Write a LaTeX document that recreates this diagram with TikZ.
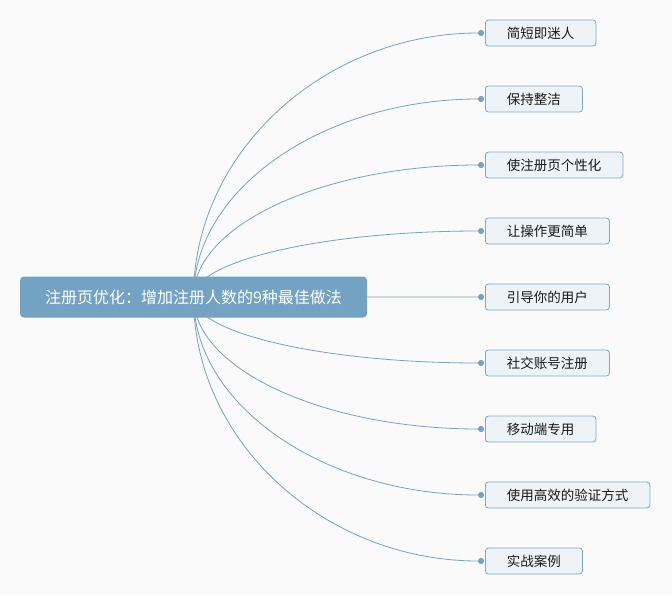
\documentclass[tikz,border=0pt]{standalone}
\usepackage{fontspec}
\setmainfont{Noto Sans CJK SC}
\definecolor{paper}{RGB}{250,250,250}
\definecolor{hubblue}{RGB}{116,162,194}
\definecolor{linkblue}{RGB}{122,161,193}
\definecolor{leafedge}{RGB}{128,168,200}
\definecolor{leaffill}{RGB}{238,243,247}
\usetikzlibrary{arrows.meta, positioning, calc}

\begin{document}
\begin{tikzpicture}[x=1pt, y=-1pt,
        hub/.style={fill=hubblue, rounded corners=4pt, text=white,
                    font=\fontsize{16}{18}\selectfont,
                    minimum width=347pt, minimum height=41pt, inner sep=0pt},
        leaf/.style={draw=leafedge, fill=leaffill, rounded corners=3pt,
                     line width=0.8pt, text=black!90,
                     font=\fontsize{13.5}{15}\selectfont,
                     minimum height=26pt, inner xsep=21.5pt, inner ysep=0pt,
                     anchor=west},
        link/.style={-{Circle[length=6pt]}, shorten >=1pt, linkblue,
                     line width=0.8pt},
        branch/.style={to path={.. controls
                       ($(\tikztostart)!0.55!(\tikztostart|-\tikztotarget)$) and
                       ($(\tikztotarget)!0.55!(\tikztostart|-\tikztotarget)$)
                       .. (\tikztotarget)}}
      ]
        \fill[paper] (0,0) rectangle (672,595);
        \useasboundingbox (0,0) rectangle (672,595);
        \coordinate (c) at (193.5,297);
        % leaves, one under the other
        \node[leaf] (l1) at (485,33) {简短即迷人};
        \node[leaf, below=39.2pt of l1.south west, anchor=north west] (l2) {保持整洁};
        \node[leaf, below=39.2pt of l2.south west, anchor=north west] (l3) {使注册页个性化};
        \node[leaf, below=39.2pt of l3.south west, anchor=north west] (l4) {让操作更简单};
        \node[leaf, below=39.2pt of l4.south west, anchor=north west] (l5) {引导你的用户};
        \node[leaf, below=39.2pt of l5.south west, anchor=north west] (l6) {社交账号注册};
        \node[leaf, below=39.2pt of l6.south west, anchor=north west] (l7) {移动端专用};
        \node[leaf, below=39.2pt of l7.south west, anchor=north west] (l8) {使用高效的验证方式};
        \node[leaf, below=39.2pt of l8.south west, anchor=north west] (l9) {实战案例};
        \draw[link, branch] (c) to (l1.west);
        \draw[link, branch] (c) to (l2.west);
        \draw[link, branch] (c) to (l3.west);
        \draw[link, branch] (c) to (l4.west);
        \draw[link] (c) -- (l5.west);
        \draw[link, branch] (c) to (l6.west);
        \draw[link, branch] (c) to (l7.west);
        \draw[link, branch] (c) to (l8.west);
        \draw[link, branch] (c) to (l9.west);
        % central topic on top of the links
        \node[hub] (topic) at (c) {注册页优化：增加注册人数的9种最佳做法};
      \end{tikzpicture}
\end{document}
